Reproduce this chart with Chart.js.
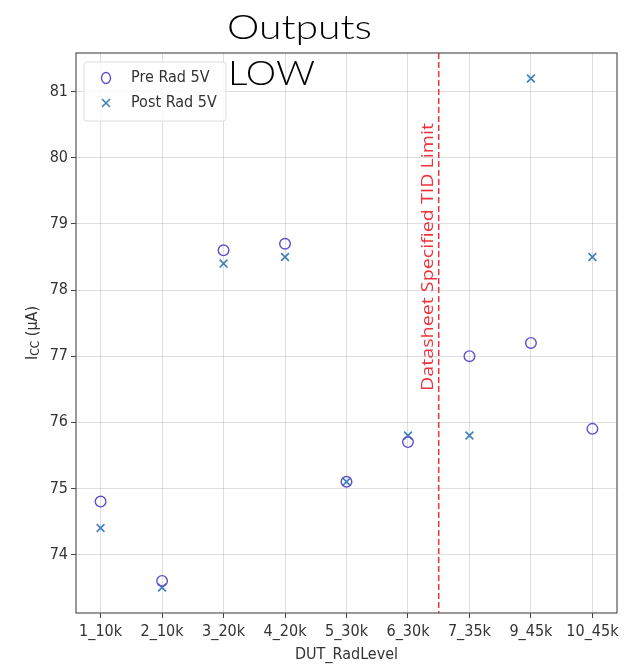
<!DOCTYPE html>
<html>
<head>
<meta charset="utf-8">
<script src="https://cdn.jsdelivr.net/npm/chart.js@4.4.0/dist/chart.umd.min.js"></script>
<style>
html,body{margin:0;padding:0;background:#fff;}
#wrap{width:627px;height:666px;position:relative;}
</style>
</head>
<body>
<div id="wrap"><canvas id="c" width="627" height="666"></canvas></div>
<script>
// ---- data ----
const categories = ["1_10k","2_10k","3_20k","4_20k","5_30k","6_30k","7_35k","9_45k","10_45k"];
const preRad5V  = [74.8, 73.6, 78.6, 78.7, 75.1, 75.7, 77.0, 77.2, 75.9];
const postRad5V = [74.4, 73.5, 78.4, 78.5, 75.1, 75.8, 75.8, 81.2, 78.5];
const yTickValues = [74, 75, 76, 77, 78, 79, 80, 81];
const limitPosition = 5.5;
const limitLabel = "Datasheet Specified TID Limit";
const titleLines = ["Outputs", "LOW"];
const seriesNames = ["Pre Rad 5V", "Post Rad 5V"];

const PRE_COLOR = "#5b4fd0";
const POST_COLOR = "#3d80b8";
const TXT = "#333";
const FONT = "'DejaVu Sans Condensed','DejaVu Sans',sans-serif";
const FS = 16;

const toPts = arr => arr.map((v,i)=>({x:i, y:v}));

function fitText(ctx, text, x, y, width, font){
  ctx.font = font;
  const w = ctx.measureText(text).width;
  ctx.save();
  ctx.translate(x, y);
  ctx.scale(width / w, 1);
  ctx.fillText(text, 0, 0);
  ctx.restore();
}

const decor = {
  id:'decor',
  beforeDatasetsDraw(chart){
    const {ctx, chartArea:a, scales:{x,y}} = chart;
    ctx.save();
    const lx = x.getPixelForValue(limitPosition);
    ctx.strokeStyle = "#f0323c";
    ctx.lineWidth = 1.5;
    ctx.setLineDash([6,3]);
    ctx.beginPath(); ctx.moveTo(lx, a.top); ctx.lineTo(lx, a.bottom); ctx.stroke();
    ctx.setLineDash([]);
    ctx.translate(lx - 10, y.getPixelForValue(78.5));
    ctx.rotate(-Math.PI/2);
    ctx.fillStyle = "#f0323c";
    ctx.textAlign = "left"; ctx.textBaseline = "middle";
    ctx.font = "15.5px 'Open Sans', sans-serif";
    const tw = ctx.measureText(limitLabel).width;
    const target = 268;
    ctx.scale(target / tw, 1);
    ctx.fillText(limitLabel, -tw/2, 0);
    ctx.restore();
  },
  afterDraw(chart){
    const {ctx, chartArea:a} = chart;
    ctx.save();
    ctx.strokeStyle = "#555"; ctx.lineWidth = 1.2;
    ctx.strokeRect(a.left, a.top, a.right-a.left, a.bottom-a.top);
    // legend
    const lx = 84, ly = 62, lw = 142, lh = 59;
    ctx.fillStyle = "rgba(255,255,255,0.85)";
    ctx.strokeStyle = "#ddd"; ctx.lineWidth = 1;
    ctx.beginPath();
    if (ctx.roundRect) ctx.roundRect(lx, ly, lw, lh, 3); else ctx.rect(lx, ly, lw, lh);
    ctx.fill(); ctx.stroke();
    ctx.lineWidth = 1.4;
    ctx.strokeStyle = PRE_COLOR;
    ctx.beginPath(); ctx.ellipse(106, 78, 4.5, 5.5, 0, 0, Math.PI*2); ctx.stroke();
    ctx.strokeStyle = POST_COLOR; ctx.lineWidth = 1.6;
    ctx.beginPath();
    ctx.moveTo(102, 99); ctx.lineTo(110, 107);
    ctx.moveTo(110, 99); ctx.lineTo(102, 107);
    ctx.stroke();
    ctx.fillStyle = TXT;
    ctx.font = FS + "px " + FONT;
    ctx.textAlign = "left"; ctx.textBaseline = "middle";
    ctx.fillText(seriesNames[0], 131, 78);
    ctx.fillText(seriesNames[1], 131, 103);
    // title
    ctx.fillStyle = "#000";
    ctx.textBaseline = "alphabetic";
    const tf = "300 33px Lato, 'Open Sans', sans-serif";
    fitText(ctx, titleLines[0], 227, 39, 145, tf);
    fitText(ctx, titleLines[1], 228, 85, 87, tf);
    // x title
    ctx.fillStyle = TXT;
    ctx.font = FS + "px " + FONT;
    ctx.textAlign = "center"; ctx.textBaseline = "middle";
    ctx.fillText("DUT_RadLevel", (a.left+a.right)/2, 655);
    // y title with subscript
    ctx.translate(33, (a.top+a.bottom)/2);
    ctx.rotate(-Math.PI/2);
    const f1 = FS + "px " + FONT, f2 = "12px " + FONT;
    ctx.font = f1; const w1 = ctx.measureText("I").width;
    ctx.font = f2; const w2 = ctx.measureText("CC").width;
    ctx.font = f1; const w3 = ctx.measureText(" (\u00b5A)").width;
    let sx = -(w1+w2+w3)/2;
    ctx.textAlign = "left"; ctx.textBaseline = "middle";
    ctx.font = f1; ctx.fillText("I", sx, 0); sx += w1;
    ctx.font = f2; ctx.fillText("CC", sx, 3); sx += w2;
    ctx.font = f1; ctx.fillText(" (\u00b5A)", sx, 0);
    ctx.restore();
  }
};

const gridOpts = { color: 'rgba(0,0,0,0.13)', borderDash: [2,2], lineWidth: 1, tickLength: 5, tickColor: '#444', tickBorderDash: [], tickWidth: 1 };

new Chart(document.getElementById('c'), {
  type: 'scatter',
  data: {
    datasets: [
      { label: seriesNames[0], data: toPts(preRad5V), pointStyle: 'circle',
        pointRadius: 5.3, pointHoverRadius: 5.3, borderColor: PRE_COLOR, backgroundColor: 'rgba(0,0,0,0)', borderWidth: 1.4 },
      { label: seriesNames[1], data: toPts(postRad5V), pointStyle: 'crossRot',
        pointRadius: 5.5, pointHoverRadius: 5.5, borderColor: POST_COLOR, backgroundColor: POST_COLOR, borderWidth: 1.6 }
    ]
  },
  options: {
    responsive: false,
    animation: false,
    events: [],
    layout: { padding: { top: 53, right: 10, left: 0, bottom: 0 } },
    plugins: { legend: { display: false }, title: { display: false }, tooltip: { enabled: false } },
    scales: {
      x: {
        type: 'linear', min: -0.4, max: 8.4,
        afterBuildTicks: s => { s.ticks = categories.map((_,i)=>({value:i})); },
        afterFit: s => { s.height = 53; },
        ticks: { callback: v => categories[v], color: TXT, font: { family: FONT, size: FS }, padding: 4, maxRotation: 0, autoSkip: false },
        grid: gridOpts,
        border: { display: false }
      },
      y: {
        type: 'linear', min: 73.115, max: 81.585,
        afterBuildTicks: s => { s.ticks = yTickValues.map(v=>({value:v})); },
        afterFit: s => { s.width = 76; },
        ticks: { color: TXT, font: { family: FONT, size: FS }, padding: 3 },
        grid: gridOpts,
        border: { display: false }
      }
    }
  },
  plugins: [decor]
});
</script>
</body>
</html>
